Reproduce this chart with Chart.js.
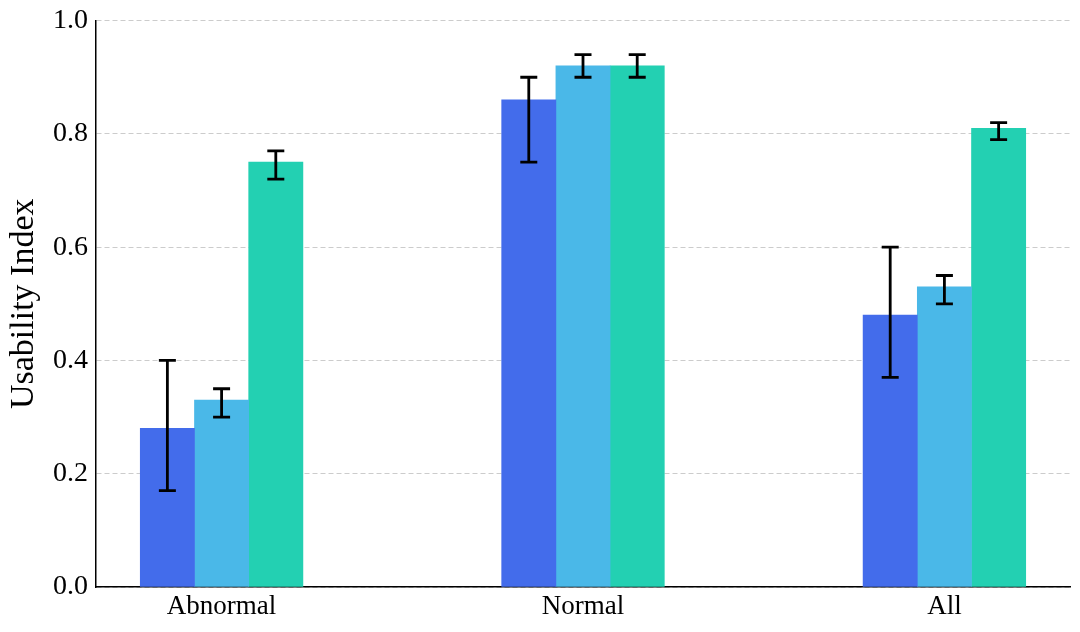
<!DOCTYPE html>
<html>
<head>
<meta charset="utf-8">
<script src="https://cdn.jsdelivr.net/npm/chart.js@4/dist/chart.umd.min.js"></script>
<style>
  html, body { margin: 0; padding: 0; background: #fff; }
  #wrap { width: 1080px; height: 632px; }
</style>
</head>
<body>
<div id="wrap"><canvas id="chart" width="1080" height="632"></canvas></div>
<script>
const categories = ["Abnormal", "Normal", "All"];
const offsets = [-0.15, 0, 0.15];
const colors = ["#436ceb", "#4ab8e8", "#23d0b2"];

// series values and error bar ends (lower, upper)
const seriesA = [0.28, 0.86, 0.48];
const seriesALow = [0.17, 0.75, 0.37];
const seriesAHigh = [0.40, 0.90, 0.60];

const seriesB = [0.33, 0.92, 0.53];
const seriesBLow = [0.30, 0.90, 0.50];
const seriesBHigh = [0.35, 0.94, 0.55];

const seriesC = [0.75, 0.92, 0.81];
const seriesCLow = [0.72, 0.90, 0.79];
const seriesCHigh = [0.77, 0.94, 0.82];

const yTicks = [0, 0.2, 0.4, 0.6, 0.8, 1.0];

const series = [
  { values: seriesA, low: seriesALow, high: seriesAHigh },
  { values: seriesB, low: seriesBLow, high: seriesBHigh },
  { values: seriesC, low: seriesCLow, high: seriesCHigh }
];

const font = "'Liberation Serif', 'Times New Roman', serif";

const errorBars = {
  id: "errorBars",
  afterDatasetsDraw(chart) {
    const ctx = chart.ctx;
    const y = chart.scales.y;
    ctx.save();
    ctx.strokeStyle = "#000";
    ctx.lineWidth = 2.8;
    chart.data.datasets.forEach((ds, i) => {
      const meta = chart.getDatasetMeta(i);
      meta.data.forEach((bar, j) => {
        const x = bar.x;
        const yl = y.getPixelForValue(ds.errLow[j]);
        const yh = y.getPixelForValue(ds.errHigh[j]);
        ctx.beginPath();
        ctx.moveTo(x, yl); ctx.lineTo(x, yh);
        ctx.moveTo(x - 8.5, yl); ctx.lineTo(x + 8.5, yl);
        ctx.moveTo(x - 8.5, yh); ctx.lineTo(x + 8.5, yh);
        ctx.stroke();
      });
    });
    ctx.restore();
  }
};

new Chart(document.getElementById("chart").getContext("2d"), {
  type: "bar",
  data: {
    datasets: series.map((s, i) => ({
      data: s.values.map((v, j) => ({ x: j + offsets[i], y: v })),
      errLow: s.low,
      errHigh: s.high,
      backgroundColor: colors[i],
      borderWidth: 0,
      grouped: false,
      barPercentage: 1,
      categoryPercentage: 1
    }))
  },
  options: {
    responsive: false,
    animation: false,
    layout: { padding: { left: 4, right: 10, top: 0, bottom: 0 } },
    plugins: { legend: { display: false }, tooltip: { enabled: false } },
    scales: {
      x: {
        type: "linear",
        offset: false,
        min: -0.3475,
        max: 2.3475,
        afterBuildTicks: scale => { scale.ticks = categories.map((c, i) => ({ value: i })); },
        ticks: {
          callback: v => categories[v],
          color: "#000",
          font: { family: font, size: 27 },
          padding: 4,
          maxRotation: 0
        },
        grid: { display: false, drawTicks: false },
        border: { display: true, color: "#000", width: 1.5 },
        afterFit: scale => { scale.height = 45; }
      },
      y: {
        min: 0,
        max: 1.0,
        afterBuildTicks: scale => { scale.ticks = yTicks.map(v => ({ value: v })); },
        ticks: {
          callback: v => v.toFixed(1),
          color: "#000",
          font: { family: font, size: 28, lineHeight: 0.9 },
          padding: 8
        },
        grid: { color: "#cccccc", lineWidth: 1, drawTicks: false },
        border: { display: true, color: "#000", width: 1.5, dash: [5, 3] },
        title: {
          display: true,
          text: "Usability Index",
          color: "#000",
          font: { family: font, size: 34 },
          padding: { top: 0, bottom: 4 }
        },
        afterFit: scale => { scale.width = 92; }
      }
    }
  },
  plugins: [errorBars]
});
</script>
</body>
</html>
